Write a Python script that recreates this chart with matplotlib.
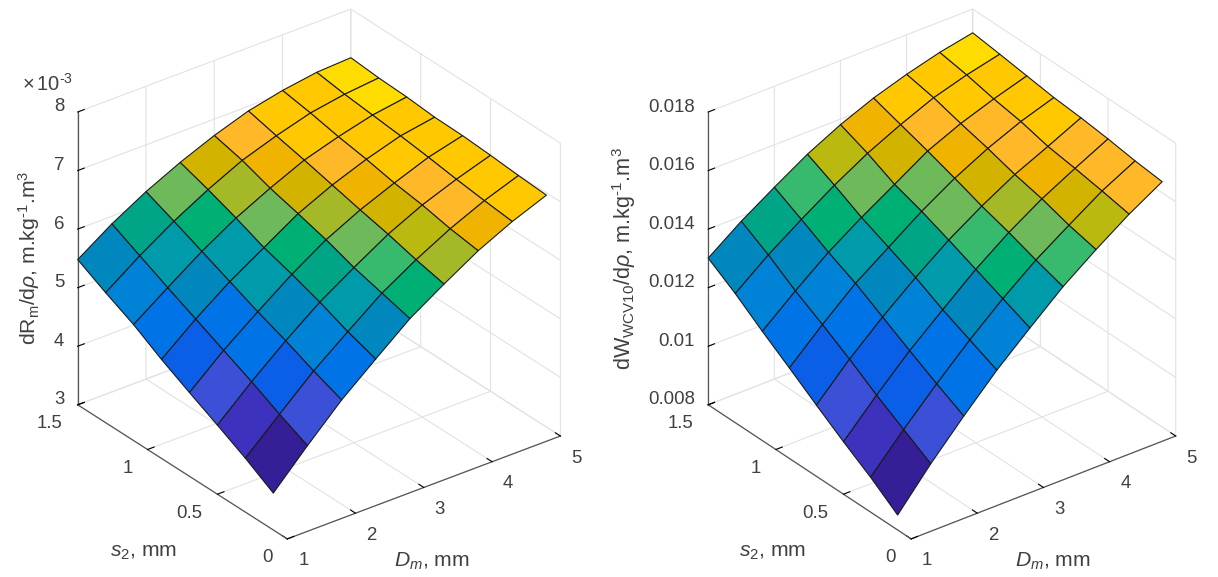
import numpy as np
import matplotlib
matplotlib.use("Agg")
import matplotlib.pyplot as plt
from mpl_toolkits.mplot3d import proj3d

plt.rcParams['font.family'] = ['Liberation Sans', 'DejaVu Sans']
plt.rcParams['mathtext.fontset'] = 'custom'
plt.rcParams['mathtext.rm'] = 'Liberation Sans'
plt.rcParams['mathtext.it'] = 'Liberation Sans:italic'
plt.rcParams['mathtext.default'] = 'regular'

Dm = [1, 1.5, 2, 2.5, 3, 3.5, 4, 4.5, 5]
s2 = [0.1, 0.3, 0.5, 0.7, 0.9, 1.1, 1.3, 1.5]

# dRm/drho, in units of 1e-3 (rows: s2, columns: Dm)
dRm = [
    [3.63, 4.22, 4.78, 5.26, 5.73, 6.10, 6.45, 6.73, 6.96],
    [3.92, 4.45, 4.97, 5.42, 5.86, 6.21, 6.52, 6.78, 6.99],
    [4.18, 4.70, 5.18, 5.62, 5.99, 6.34, 6.62, 6.84, 7.03],
    [4.43, 4.93, 5.37, 5.79, 6.16, 6.45, 6.69, 6.91, 7.06],
    [4.69, 5.16, 5.58, 5.94, 6.30, 6.57, 6.79, 6.97, 7.07],
    [4.98, 5.39, 5.79, 6.14, 6.43, 6.69, 6.87, 7.02, 7.11],
    [5.22, 5.63, 6.00, 6.32, 6.60, 6.80, 6.97, 7.07, 7.13],
    [5.48, 5.87, 6.20, 6.48, 6.72, 6.92, 7.05, 7.14, 7.17],
]
# dWWCV10/drho, in units of 1e-3
dW = [
    [8.51, 9.82, 11.01, 12.14, 13.14, 14.11, 14.94, 15.71, 16.38],
    [9.19, 10.38, 11.50, 12.56, 13.53, 14.41, 15.16, 15.89, 16.48],
    [9.79, 10.94, 12.02, 12.98, 13.92, 14.74, 15.45, 16.05, 16.62],
    [10.43, 11.56, 12.56, 13.47, 14.31, 15.03, 15.67, 16.19, 16.73],
    [11.09, 12.13, 13.10, 13.89, 14.68, 15.37, 15.95, 16.43, 16.81],
    [11.73, 12.67, 13.55, 14.30, 14.99, 15.69, 16.19, 16.59, 16.94],
    [12.41, 13.29, 14.06, 14.79, 15.44, 15.98, 16.46, 16.80, 17.07],
    [13.01, 13.83, 14.55, 15.24, 15.81, 16.28, 16.65, 16.96, 17.19],
]

palette = ['#351e96', '#3c32be', '#3c50d7', '#0a5fe6', '#0073e6', '#0082d7',
           '#0087be', '#009baa', '#00a587', '#00af73', '#37b96e', '#6eb95a',
           '#a5b928', '#b9b90f', '#d2b400', '#f0b400', '#ffb928', '#ffc800',
           '#ffdc00']

levels_R = [
    [0, 2, 4, 6, 9, 12, 15, 17],
    [1, 3, 5, 7, 10, 13, 16, 17],
    [2, 4, 6, 8, 11, 14, 16, 17],
    [3, 4, 7, 9, 12, 15, 17, 17],
    [4, 6, 7, 11, 14, 16, 17, 17],
    [5, 7, 9, 12, 15, 17, 17, 18],
    [6, 8, 11, 14, 16, 17, 17, 18],
]
levels_W = [
    [0, 2, 4, 5, 7, 10, 13, 16],
    [1, 3, 4, 6, 9, 11, 14, 16],
    [2, 3, 5, 7, 10, 12, 15, 16],
    [3, 4, 6, 8, 11, 14, 16, 17],
    [4, 5, 7, 9, 11, 15, 16, 17],
    [5, 6, 9, 11, 14, 16, 17, 17],
    [6, 8, 10, 13, 15, 17, 17, 18],
]

x_ticks = [1, 2, 3, 4, 5]
x_labels = ['1', '2', '3', '4', '5']
y_ticks = [0, 0.5, 1, 1.5]
y_labels = ['0', '0.5', '1', '1.5']
zR_ticks = [3, 4, 5, 6, 7, 8]
zR_labels = ['3', '4', '5', '6', '7', '8']
zW_ticks = [8, 10, 12, 14, 16, 18]
zW_labels = ['0.008', '0.01', '0.012', '0.014', '0.016', '0.018']

FW, FH = 1218, 577
TXT = '#404040'
TICK_FS = 13.4
fig = plt.figure(figsize=(FW / 100, FH / 100), dpi=100, facecolor='white')


def ftext(x, y, s, ha='center', **kw):
    fig.text(x / FW, 1 - y / FH, s, color=TXT, ha=ha, va='center', **kw)


def panel(values, levels, zlim, zticks, zlabels, box):
    ax = fig.add_axes([0, 0, 1, 1], projection='3d')
    ax.apply_aspect = lambda position=None: None
    ax.patch.set_visible(False)
    ax.set_proj_type('ortho')
    ax.view_init(elev=30, azim=-127.5)
    ax.set_box_aspect((1, 1, 1))
    ax.set_xlim(1, 5, view_margin=0)
    ax.set_ylim(0, 1.5, view_margin=0)
    ax.set_zlim(*zlim, view_margin=0)

    X, Y = np.meshgrid(Dm, s2)
    Z = np.array(values)
    rgba = np.array([[matplotlib.colors.to_rgba(palette[v]) for v in row] for row in levels])
    ax.plot_surface(X, Y, Z, facecolors=rgba, edgecolor='#1a1a1a', linewidth=0.8,
                    rstride=1, cstride=1, shade=False, antialiased=True)

    ax.set_xticks(x_ticks)
    ax.set_yticks(y_ticks)
    ax.set_zticks(zticks)
    ax.set_xticklabels([''] * len(x_ticks))
    ax.set_yticklabels([''] * len(y_ticks))
    ax.set_zticklabels([''] * len(zticks))
    ax.zaxis.set_ticks_position('upper')
    for a in (ax.xaxis, ax.yaxis, ax.zaxis):
        a.set_pane_color((1, 1, 1, 0))
        a.pane.set_edgecolor('#dcdcdc')
        a.pane.set_linewidth(0.8)
        a.line.set_color('#555555')
        a.line.set_linewidth(0.9)
        a._axinfo['grid'].update(color='#e2e2e2', linewidth=0.8, linestyle='-')
        a._axinfo['tick'].update(inward_factor=0.0, outward_factor=0.3, color='#555555')
        a._axinfo['tick']['linewidth'] = {True: 0.8, False: 0.6}

    # place the axes box so the cube corners land where the reference has them
    M = ax.get_proj()
    x0, x1 = ax.viewLim.intervalx
    y0, y1 = ax.viewLim.intervaly
    def view(x, y, z):
        vx, vy, _ = proj3d.proj_transform(x, y, z, M)
        return vx, vy
    lx, ly = view(1, 1.5, zlim[0])
    rx, ry = view(5, 0, zlim[0])
    tx, ty = view(1, 1.5, zlim[1])
    W = (box['right'][0] - box['left'][0]) / ((rx - lx) / (x1 - x0))
    L = box['left'][0] - W * (lx - x0) / (x1 - x0)
    H = (box['left'][1] - box['top']) / ((ty - ly) / (y1 - y0))
    B = (FH - box['left'][1]) - H * (ly - y0) / (y1 - y0)
    ax.set_position([L / FW, B / FH, W / FW, H / FH])

    def pixel(x, y, z):
        vx, vy = view(x, y, z)
        return L + W * (vx - x0) / (x1 - x0), FH - (B + H * (vy - y0) / (y1 - y0))

    # tick labels sit at a fixed pixel offset from the projected tick position
    for v, t in zip(x_ticks, x_labels):
        px, py = pixel(v, 0, zlim[0])
        ftext(px + 16, py + 22, t, fontsize=TICK_FS)
    for v, t in zip(y_ticks, y_labels):
        px, py = pixel(1, v, zlim[0])
        ftext(px - 15, py + 19, t, ha='right', fontsize=TICK_FS)
    for v, t in zip(zticks, zlabels):
        px, py = pixel(1, 1.5, v)
        ftext(px - 13.5, py - 5, t, ha='right', fontsize=TICK_FS)
    return ax


panel(dRm, levels_R, (3, 8), zR_ticks, zR_labels,
      {'left': (77.7, 404.8), 'right': (560.4, 436.7), 'top': 112})
panel(dW, levels_W, (8, 18), zW_ticks, zW_labels,
      {'left': (708.2, 404.8), 'right': (1175.7, 436.7), 'top': 112})

ftext(47, 84, r'$\times\,10^{\text{-}3}$', fontsize=14.5)
ftext(29, 258, r'dR$_{m}$/d$\mathit{\rho}$, m.kg$^{\text{-}1}$.m$^{3}$', fontsize=15.2, rotation=90)
ftext(143, 553, r'$\mathit{s_{2}}$, mm', fontsize=15.2)
ftext(432, 561, r'$\mathit{D_{m}}$, mm', fontsize=15.2)
ftext(624, 259, r'dW$_{WCV10}$/d$\mathit{\rho}$, m.kg$^{\text{-}1}$.m$^{3}$', fontsize=15.6, rotation=90)
ftext(772, 553, r'$\mathit{s_{2}}$, mm', fontsize=15.2)
ftext(1053, 561, r'$\mathit{D_{m}}$, mm', fontsize=15.2)

fig.savefig('out.png', dpi=100)
